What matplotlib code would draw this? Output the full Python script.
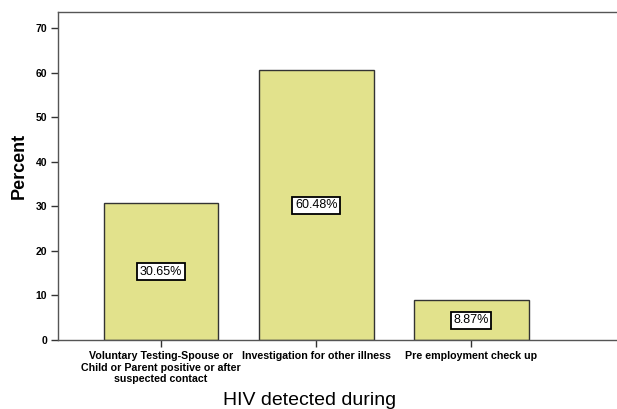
import matplotlib
matplotlib.use('Agg')
import matplotlib.pyplot as plt

# 数据
categories = ['Voluntary Testing-Spouse or\nChild or Parent positive or after\nsuspected contact',
              'Investigation for other illness',
              'Pre employment check up']
percents = [30.65, 60.48, 8.87]
y_ticks = [0, 10, 20, 30, 40, 50, 60, 70]

plt.rcParams['font.family'] = ['Liberation Sans', 'DejaVu Sans']

fig = plt.figure(figsize=(6.17, 4.09), dpi=100)
ax = fig.add_axes([58 / 617, 1 - 340 / 409, 1 - 58 / 617, (340 - 12) / 409])

x = range(len(categories))
ax.bar(x, percents, width=0.74, color='#e2e28c', edgecolor='#333333', linewidth=1.0)

# 数值标签
for i, v in zip(x, percents):
    ax.text(i, v / 2, f'{v:.2f}%', ha='center', va='center', fontsize=9,
            bbox=dict(boxstyle='square,pad=0.2', facecolor='white', edgecolor='black', linewidth=1.3))

ax.set_xlim(-0.665, 2.94)
ax.set_ylim(0, 73.6)
ax.set_yticks(y_ticks)
ax.set_yticklabels([str(t) for t in y_ticks], fontsize=7.5, fontweight='bold')
ax.set_xticks(list(x))
ax.set_xticklabels(categories, fontsize=7.7, fontweight='bold', linespacing=1.2)
ax.tick_params(axis='both', length=5, width=1, color='#333333', pad=3)

for s in ['left', 'bottom', 'top']:
    ax.spines[s].set_color('#555555')
    ax.spines[s].set_linewidth(1.0)
ax.spines['right'].set_visible(False)

ax.set_ylabel('Percent', fontsize=13, fontweight='bold')
ax.yaxis.set_label_coords(-0.055, 0.53)
ax.set_xlabel('HIV detected during', fontsize=14)
ax.xaxis.set_label_coords(0.45, -0.16)

fig.savefig('out.png', dpi=100)
